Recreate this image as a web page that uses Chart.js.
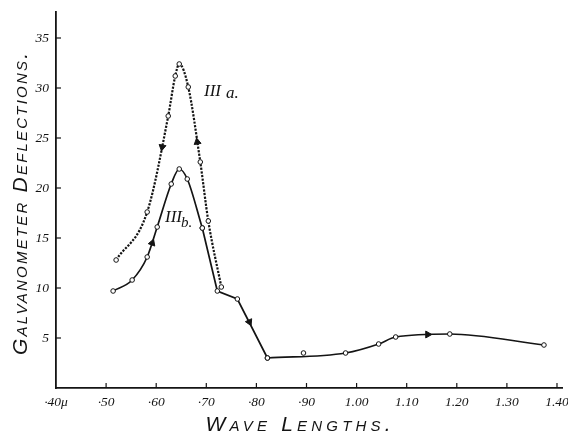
<!DOCTYPE html>
<html>
<head>
<meta charset="utf-8">
<script src="https://cdn.jsdelivr.net/npm/chart.js@4/dist/chart.umd.min.js"></script>
<style>
  html, body { margin: 0; padding: 0; background: #fff; }
  .chart { width: 568px; height: 434px; }
</style>
</head>
<body>
<div class="chart"><canvas id="myChart"></canvas></div>
<script>
// curve III a. (dotted)
let aWave = [0.520, 0.582, 0.624, 0.638, 0.646, 0.664, 0.688, 0.704, 0.730];
let aDefl = [12.8, 17.6, 27.2, 31.2, 32.4, 30.1, 22.6, 16.7, 10.1];

// curve III b. (solid)
let bWave = [0.514, 0.552, 0.582, 0.602, 0.630, 0.646, 0.662, 0.692, 0.722, 0.762, 0.822, 0.978, 1.044, 1.078, 1.186, 1.374];
let bDefl = [9.7, 10.8, 13.1, 16.1, 20.4, 21.9, 20.9, 16.0, 9.7, 8.9, 3.0, 3.5, 4.4, 5.1, 5.4, 4.3];

// observation lying off the curve
let strayWave = [0.894];
let strayDefl = [3.5];

// arrow heads drawn on the curves
let arrowWave = [0.592, 0.786, 1.142, 0.612, 0.682];
let arrowDefl = [14.5, 6.6, 5.35, 24.1, 24.6];
let arrowAngle = [20, 155, 90, 190, 350];

let xTickValues = [0.4, 0.5, 0.6, 0.7, 0.8, 0.9, 1.0, 1.1, 1.2, 1.3, 1.4];
let xTickLabels = ['·40μ', '·50', '·60', '·70', '·80', '·90', '1.00', '1.10', '1.20', '1.30', '1.40'];

function pts(xs, ys, from, to) {
  return xs.map((x, i) => ({x: x, y: ys[i]})).slice(from || 0, to);
}

let ink = '#141414';
let tickFont = {family: "'Liberation Serif', serif", style: 'italic', size: 13.5};

// text spread out to a given width, like the hand lettering
function spreadText(ctx, text, cx, cy, width) {
  ctx.letterSpacing = '0px';
  let w0 = ctx.measureText(text).width;
  let sp = (width - w0) / (text.length - 1);
  ctx.letterSpacing = sp + 'px';
  ctx.textAlign = 'left';
  ctx.fillText(text, cx - width / 2, cy);
  ctx.letterSpacing = '0px';
}

// inside tick marks + hand lettered texts
let extras = {
  id: 'extras',
  afterDraw(chart) {
    let ctx = chart.ctx;
    let xs = chart.scales.x, ys = chart.scales.y;
    ctx.save();
    ctx.strokeStyle = ink;
    ctx.lineWidth = 1.2;
    xTickValues.forEach(v => {
      if (v === 0.4) return;
      let px = xs.getPixelForValue(v);
      ctx.beginPath();
      ctx.moveTo(px, xs.top);
      ctx.lineTo(px, xs.top - 5);
      ctx.stroke();
    });
    [5, 10, 15, 20, 25, 30, 35].forEach(v => {
      let py = ys.getPixelForValue(v);
      ctx.beginPath();
      ctx.moveTo(ys.right, py);
      ctx.lineTo(ys.right + 5, py);
      ctx.stroke();
    });

    ctx.fillStyle = ink;
    ctx.textBaseline = 'middle';
    ctx.font = "italic small-caps 21px 'Liberation Sans'";
    spreadText(ctx, 'Wave Lengths.', 298, 425, 185);

    ctx.save();
    ctx.translate(21, 204);
    ctx.rotate(-Math.PI / 2);
    spreadText(ctx, 'Galvanometer Deflections.', 0, 0, 302);
    ctx.restore();

    ctx.font = "italic 17px 'Liberation Serif'";
    ctx.textAlign = 'left';
    ctx.fillText('III', 204, 92);
    ctx.fillText('a.', 226, 94);
    ctx.fillText('III', 165, 218);
    ctx.font = "italic 15px 'Liberation Serif'";
    ctx.fillText('b.', 181, 223);
    ctx.restore();
  }
};

let lineStyle = {
  showLine: true,
  borderColor: ink,
  borderWidth: 1.7,
  pointRadius: 2.3,
  pointBackgroundColor: '#fff',
  pointBorderColor: ink,
  pointBorderWidth: 1
};

let ctx = document.getElementById('myChart').getContext('2d');

let chart = new Chart(ctx, {
  type: 'scatter',
  data: {
    datasets: [
      Object.assign({}, lineStyle, {
        label: 'III a.',
        data: pts(aWave, aDefl),
        cubicInterpolationMode: 'monotone',
        borderWidth: 2.2,
        borderDash: [2.2, 1.4]
      }),
      // III b. : rounded peak, straight fall, rounded tail
      Object.assign({}, lineStyle, {
        label: 'III b.',
        data: pts(bWave, bDefl, 0, 8),
        cubicInterpolationMode: 'monotone'
      }),
      Object.assign({}, lineStyle, {
        label: 'III b. fall',
        data: pts(bWave, bDefl, 7, 11),
        tension: 0
      }),
      Object.assign({}, lineStyle, {
        label: 'III b. tail',
        data: pts(bWave, bDefl, 10),
        cubicInterpolationMode: 'monotone'
      }),
      Object.assign({}, lineStyle, {
        label: 'stray',
        data: pts(strayWave, strayDefl),
        showLine: false
      }),
      {
        label: 'arrows',
        data: pts(arrowWave, arrowDefl),
        showLine: false,
        pointStyle: 'triangle',
        pointRotation: arrowAngle,
        pointRadius: 4,
        pointBackgroundColor: ink,
        pointBorderColor: ink,
        pointBorderWidth: 1
      }
    ]
  },
  options: {
    responsive: true,
    maintainAspectRatio: false,
    animation: false,
    events: [],
    layout: {padding: {top: 12, right: 6, left: 0, bottom: 0}},
    plugins: {legend: {display: false}, tooltip: {enabled: false}},
    scales: {
      x: {
        type: 'linear',
        min: 0.4,
        max: 1.41,
        grid: {display: false, drawTicks: false},
        border: {display: true, color: ink, width: 1.8},
        afterFit: function(s) { s.height = 46; s.paddingLeft = 0; s.paddingRight = 0; },
        afterBuildTicks: function(s) { s.ticks = xTickValues.map(v => ({value: v})); },
        ticks: {
          color: ink,
          font: tickFont,
          padding: 6,
          autoSkip: false,
          maxRotation: 0,
          callback: function(v) {
            let i = xTickValues.findIndex(t => Math.abs(t - v) < 1e-6);
            return i < 0 ? '' : xTickLabels[i];
          }
        }
      },
      y: {
        min: 0,
        max: 37.6,
        grid: {display: false, drawTicks: false},
        border: {display: true, color: ink, width: 1.8},
        afterFit: function(s) { s.width = 56; s.paddingTop = 0; s.paddingBottom = 0; },
        ticks: {
          color: ink,
          font: tickFont,
          padding: 7,
          stepSize: 5,
          includeBounds: false,
          callback: function(v) { return v === 0 ? '' : v; }
        }
      }
    }
  },
  plugins: [extras]
});
</script>
</body>
</html>
